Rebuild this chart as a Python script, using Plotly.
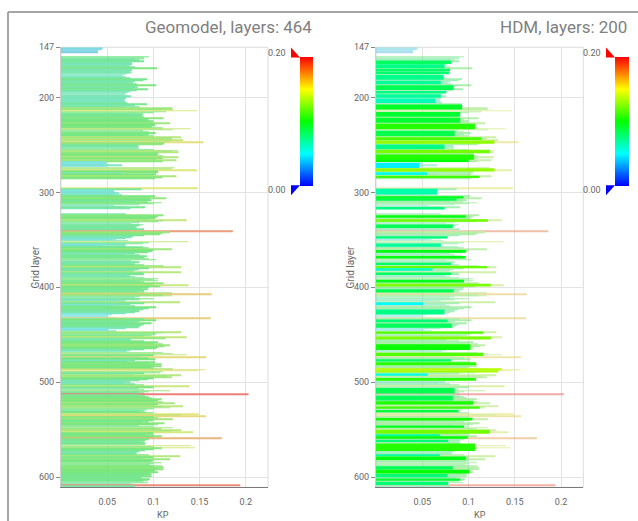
import plotly.graph_objects as go

W, H = 638, 521

# ---------------- data ----------------
first_layer = 147
geo_kp = [
    # 147-156
    0, 0.045, 0.044, 0, 0.040, 0.040, 0, 0, 0, 0,
    # 157-166
    0.095, 0.090, 0.090, 0.080, 0.085, 0.090, 0.075, 0.077, 0.077, 0.071,
    # 167-176
    0.075, 0.080, 0.104, 0.076, 0.077, 0.075, 0.075, 0.077, 0.072, 0.069,
    # 177-186
    0.066, 0.066, 0.070, 0.075, 0.093, 0.089, 0.080, 0.076, 0.078, 0.082,
    # 187-196
    0.103, 0.080, 0.083, 0.078, 0.094, 0.082, 0.075, 0.072, 0.072, 0.070,
    # 197-206
    0.069, 0.072, 0.076, 0.071, 0.070, 0.069, 0.068, 0.069, 0.070, 0.072,
    # 207-216
    0.093, 0.080, 0.069, 0.085, 0.120, 0.121, 0.110, 0.147, 0.114, 0.100,
    # 217-226
    0.080, 0.089, 0.088, 0.087, 0.090, 0.111, 0.094, 0.095, 0.100, 0.098,
    # 227-236
    0.118, 0.102, 0.102, 0.098, 0.098, 0.110, 0.140, 0.121, 0.089, 0.095,
    # 237-246
    0.103, 0.102, 0.095, 0.091, 0.100, 0.130, 0.120, 0.120, 0.132, 0.118,
    # 247-256
    0.154, 0.112, 0.110, 0.082, 0.084, 0.080, 0.084, 0.084, 0.100, 0.127,
    # 257-266
    0.120, 0.127, 0.105, 0.105, 0.103, 0.110, 0.127, 0.110, 0.103, 0.125,
    # 267-276
    0.110, 0.048, 0.050, 0.048, 0.066, 0.045, 0.050, 0.123, 0.120, 0.118,
    # 277-286
    0.147, 0.105, 0.105, 0.066, 0.103, 0.100, 0.125, 0.110, 0.102, 0,
    # 287-296
    0, 0, 0, 0, 0, 0, 0, 0, 0, 0.148,
    # 297-306
    0.087, 0.057, 0.057, 0.058, 0.063, 0.057, 0.066, 0.102, 0.096, 0.114,
    # 307-316
    0.096, 0.098, 0.080, 0.094, 0.109, 0.100, 0.085, 0.057, 0.070, 0.091,
    # 317-326
    0.075, 0, 0, 0, 0, 0, 0.070, 0.111, 0.105, 0.103,
    # 327-336
    0.102, 0.095, 0.136, 0.110, 0.105, 0.085, 0.076, 0.089, 0.085, 0.082,
    # 337-346
    0.080, 0.082, 0.090, 0.075, 0.186, 0.118, 0.110, 0.107, 0.090, 0.078,
    # 347-356
    0.076, 0.070, 0.055, 0.060, 0.073, 0.138, 0.095, 0.089, 0.070, 0.045,
    # 357-366
    0.070, 0.089, 0.095, 0.120, 0.100, 0.098, 0.094, 0.080, 0.069, 0.085,
    # 367-376
    0.093, 0.090, 0.089, 0.095, 0.103, 0.076, 0.080, 0.085, 0.076, 0.080,
    # 377-386
    0.090, 0.111, 0.130, 0.095, 0.084, 0.080, 0.078, 0.130, 0.089, 0.090,
    # 387-396
    0.071, 0.075, 0.080, 0.090, 0.105, 0.100, 0.105, 0.085, 0.090, 0.111,
    # 397-406
    0.100, 0.138, 0.107, 0.095, 0.087, 0.094, 0.090, 0.082, 0.090, 0.120,
    # 407-416
    0.163, 0.110, 0.120, 0.085, 0.080, 0.100, 0.085, 0.062, 0.070, 0.129,
    # 417-426
    0.090, 0.075, 0.057, 0.080, 0.103, 0.095, 0.089, 0.084, 0.085, 0.080,
    # 427-436
    0.070, 0.051, 0.055, 0.051, 0.051, 0.060, 0.162, 0.090, 0.103, 0.085,
    # 437-446
    0.080, 0.098, 0.090, 0.087, 0.085, 0.084, 0.070, 0.051, 0.051, 0.060,
    # 447-456
    0.130, 0.110, 0.103, 0.102, 0.098, 0.090, 0.136, 0.113, 0.075, 0.076,
    # 457-466
    0.090, 0.105, 0.100, 0.110, 0.118, 0.112, 0.105, 0.103, 0.090, 0.071,
    # 467-476
    0.075, 0.071, 0.110, 0.121, 0.136, 0.100, 0.087, 0.157, 0.095, 0.102,
    # 477-486
    0.080, 0.071, 0.102, 0.095, 0.109, 0.100, 0.109, 0.098, 0.100, 0.121,
    # 487-496
    0.156, 0.148, 0.110, 0.107, 0.090, 0.078, 0.130, 0.115, 0.120, 0.100,
    # 497-506
    0.094, 0.085, 0.069, 0.075, 0.067, 0.080, 0.090, 0.139, 0.100, 0.076,
    # 507-516
    0.084, 0.090, 0.118, 0.095, 0.084, 0.090, 0.203, 0.085, 0.091, 0.095,
    # 517-526
    0.098, 0.109, 0.105, 0.102, 0.110, 0.123, 0.105, 0.102, 0.132, 0.110,
    # 527-536
    0.118, 0.100, 0.093, 0.090, 0.085, 0.091, 0.100, 0.149, 0.130, 0.157,
    # 537-546
    0.100, 0.105, 0.121, 0.100, 0.087, 0.095, 0.112, 0.100, 0.105, 0.084,
    # 547-556
    0.100, 0.121, 0.105, 0.109, 0.130, 0.120, 0.143, 0.100, 0.091, 0.100,
    # 557-566
    0.109, 0.100, 0.174, 0.095, 0.091, 0.084, 0.090, 0.091, 0.085, 0.091,
    # 567-576
    0.141, 0.100, 0.145, 0.109, 0.100, 0.091, 0.085, 0.082, 0.080, 0.082,
    # 577-586
    0.095, 0.129, 0.100, 0.089, 0.118, 0.100, 0.098, 0.090, 0.109, 0.100,
    # 587-596
    0.096, 0.109, 0.100, 0.111, 0.105, 0.111, 0.102, 0.100, 0.105, 0.095,
    # 597-606
    0.098, 0.090, 0.098, 0.085, 0.087, 0.096, 0.090, 0.094, 0.088, 0.094,
    # 607-610
    0.076, 0.080, 0.194, 0.080,
]
geo_layers = list(range(first_layer, first_layer + len(geo_kp)))

# HDM (upscaled) layers: top / bottom in geomodel-layer units, and KP
hdm_top = [161, 165, 169.7, 172.7, 176.3, 182.2, 187, 193, 196.5, 201,
           207.3, 215.3, 221.3, 227.5, 234.9, 241.8, 245.3, 249.5, 255, 260,
           266, 269, 274.6, 278.8, 282.3, 296.2, 303.9, 306.8, 315.4, 324.1,
           328.3, 333.9, 346.1, 353.8, 360.7, 367, 374, 377.5, 380.6, 384.5,
           392.1, 396.3, 401.9, 416.5, 423.5, 434, 438.2, 446.5, 451.8, 460.1,
           468.9, 475.8, 480, 485.6, 488, 490.8, 495.7, 506.2, 514.2, 520.1,
           525.7, 529.2, 537.6, 545.6, 550.1, 555, 557.4, 560.6, 564.7, 576,
           578.2, 588.5, 592.2, 596.8, 601.4, 604.8]
hdm_bottom = [164.5, 169, 172.5, 175.3, 181.2, 186, 192, 195.8, 200.3, 205.6,
              212.6, 220.2, 226.5, 233.5, 240.8, 244.6, 248.8, 254.4, 258.6, 265.5,
              268, 274.3, 278, 281.6, 284.7, 302.2, 306.5, 308.8, 317.9, 326.6,
              330.8, 337.4, 348.5, 357.3, 363.5, 369.5, 376.4, 380, 382.4, 386.9,
              394.9, 399.1, 405.4, 418.6, 428.7, 436.8, 442.7, 449, 454.9, 466,
              472.4, 478.3, 482.1, 487.3, 489.8, 493.3, 498.5, 511.8, 519.4, 523.6,
              528.1, 531.6, 540.3, 548, 554.3, 557, 559.5, 563, 572.4, 578,
              582, 592, 596.1, 600.3, 603.8, 608.3]
hdm_kp = [0.081, 0.074, 0.080, 0.079, 0.073, 0.070, 0.084, 0.076, 0.070, 0.064,
          0.093, 0.091, 0.091, 0.107, 0.085, 0.114, 0.128, 0.074, 0.123, 0.106,
          0.100, 0.047, 0.128, 0.055, 0.112, 0.066, 0.094, 0.087, 0.074, 0.097,
          0.121, 0.083, 0.077, 0.070, 0.097, 0.097, 0.081, 0.120, 0.061, 0.081,
          0.095, 0.124, 0.084, 0.051, 0.074, 0.077, 0.082, 0.116, 0.124, 0.102,
          0.116, 0.081, 0.108, 0.136, 0.132, 0.056, 0.108, 0.085, 0.083, 0.105,
          0.112, 0.089, 0.104, 0.095, 0.123, 0.069, 0.099, 0.078, 0.107, 0.069,
          0.097, 0.083, 0.101, 0.077, 0.091, 0.078]

panel_titles = ["Geomodel, layers: 464", "HDM, layers: 200"]
y_tickvals = [147, 200, 300, 400, 500, 600]
x_tickvals = [0.05, 0.1, 0.15, 0.2]
x_ticktext = ["0.05", "0.1", "0.15", "0.2"]
cbar_labels = ["0.20", "0.00"]
kp_min, kp_max = 0.0, 0.2

hdm_center = [(t + b) / 2 for t, b in zip(hdm_top, hdm_bottom)]
hdm_width = [b - t for t, b in zip(hdm_top, hdm_bottom)]

# ---------------- style ----------------
FONT = "Roboto"
rainbow = [[0.0, "#0000ff"], [0.25, "#00ffff"], [0.5, "#00ff00"],
           [0.75, "#ffff00"], [1.0, "#ff0000"]]
# washed-out version used for the fine geomodel layers
pale_rainbow = [[0.0, "rgb(110,112,228)"], [0.25, "rgb(110,226,226)"],
                [0.5, "rgb(100,228,108)"], [0.75, "rgb(224,230,110)"],
                [1.0, "rgb(236,110,104)"]]


def px(x):
    return x / W


def py(y):
    return 1 - y / H


fig = go.Figure()

# left: geomodel
fig.add_trace(go.Bar(
    orientation="h", x=geo_kp, y=geo_layers, width=0.8,
    marker=dict(color=geo_kp, coloraxis="coloraxis3", line=dict(width=0)),
    opacity=0.88, xaxis="x", yaxis="y", hoverinfo="skip"))

# right: geomodel faded + HDM
fig.add_trace(go.Bar(
    orientation="h", x=geo_kp, y=geo_layers, width=0.8,
    marker=dict(color=geo_kp, coloraxis="coloraxis3", line=dict(width=0)),
    opacity=0.58, xaxis="x2", yaxis="y2", hoverinfo="skip"))
fig.add_trace(go.Bar(
    orientation="h", x=hdm_kp, y=hdm_center, width=hdm_width,
    marker=dict(color=hdm_kp, coloraxis="coloraxis2", line=dict(width=0)),
    opacity=1.0, xaxis="x2", yaxis="y2", hoverinfo="skip"))
# invisible carrier for the left colorbar
fig.add_trace(go.Bar(
    orientation="h", x=[0], y=[first_layer],
    marker=dict(color=[kp_min], coloraxis="coloraxis"),
    xaxis="x", yaxis="y", hoverinfo="skip", opacity=0))

y_dom = [py(487), py(42.7)]
y_range = [610.8, 147]
x_range = [0, 0.224]

tickfont = dict(family=FONT, size=9, color="#666666")


def xax(dom, anchor):
    return dict(domain=dom, anchor=anchor, range=x_range,
                tickvals=x_tickvals, ticktext=x_ticktext, tickfont=tickfont,
                showgrid=True, gridcolor="#e3e3e3", gridwidth=1,
                zeroline=False, showline=True, linecolor="#7a7a7a", linewidth=1,
                ticks="outside", ticklen=6, tickcolor="rgba(0,0,0,0)",
                fixedrange=True)


def yax(anchor):
    return dict(domain=y_dom, anchor=anchor, range=y_range,
                tickvals=y_tickvals, tickfont=tickfont,
                showgrid=True, gridcolor="#e3e3e3", gridwidth=1,
                zeroline=False, showline=True, linecolor="#d0d0d0", linewidth=1,
                ticks="outside", ticklen=4, tickcolor="#888888",
                fixedrange=True)


cb_common = dict(thicknessmode="pixels", lenmode="pixels", len=129,
                 xanchor="left", yanchor="middle", y=py(117.5),
                 xpad=0, ypad=0, outlinewidth=0, showticklabels=False, ticks="")

fig.update_layout(
    width=W, height=H, margin=dict(l=0, r=0, t=0, b=0),
    paper_bgcolor="white", plot_bgcolor="white",
    barmode="overlay", showlegend=False,
    font=dict(family=FONT, color="#666666"),
    xaxis=xax([px(61), px(268)], "y"),
    yaxis=yax("x"),
    xaxis2=xax([px(376), px(583.3)], "y2"),
    yaxis2=yax("x2"),
    coloraxis=dict(cmin=kp_min, cmax=kp_max, colorscale=rainbow,
                   colorbar=dict(x=px(300), thickness=13, **cb_common)),
    coloraxis2=dict(cmin=kp_min, cmax=kp_max, colorscale=rainbow,
                    colorbar=dict(x=px(615), thickness=14, **cb_common)),
    coloraxis3=dict(cmin=kp_min, cmax=kp_max, colorscale=pale_rainbow,
                    showscale=False),
)

ann = []
# panel titles
for text, xr in zip(panel_titles, [314, 628.5]):
    ann.append(dict(text=text, x=px(xr), y=py(22), xref="paper", yref="paper",
                    xanchor="right", yanchor="middle", showarrow=False,
                    font=dict(family=FONT, size=17, color="#808080")))
# axis titles
for xc in [35, 350]:
    ann.append(dict(text="Grid layer", x=px(xc), y=py(265), xref="paper", yref="paper",
                    textangle=-90, xanchor="center", yanchor="middle", showarrow=False,
                    font=dict(family=FONT, size=10, color="#666666")))
for xc in [163, 480]:
    ann.append(dict(text="KP", x=px(xc), y=py(515), xref="paper", yref="paper",
                    xanchor="center", yanchor="middle", showarrow=False,
                    font=dict(family=FONT, size=9, color="#666666")))
# colorbar end labels
for xr in [288, 603]:
    for lab, yc in zip(cbar_labels, [48, 187]):
        ann.append(dict(text=lab, x=px(xr), y=py(yc), xref="paper", yref="paper",
                        xanchor="right", yanchor="middle", showarrow=False,
                        font=dict(family=FONT, size=9, color="#666666")))
fig.update_layout(annotations=ann)

shapes = []
# plot frames
for xr, yr in [("x", "y"), ("x2", "y2")]:
    shapes.append(dict(type="rect", xref=xr + " domain", yref=yr + " domain",
                       x0=0, x1=1, y0=0, y1=1, line=dict(color="#dcdcdc", width=1),
                       layer="below"))
# colorbar extension triangles
for xl in [291, 606]:
    shapes.append(dict(type="path", xref="paper", yref="paper",
                       path=f"M {px(xl)} {py(43)} L {px(xl)} {py(53)} L {px(xl + 9)} {py(53)} Z",
                       fillcolor="#ff0000", line=dict(width=0)))
    shapes.append(dict(type="path", xref="paper", yref="paper",
                       path=f"M {px(xl)} {py(182)} L {px(xl + 9)} {py(182)} L {px(xl)} {py(192)} Z",
                       fillcolor="#0000ff", line=dict(width=0)))
# outer border (top and left)
shapes.append(dict(type="line", xref="paper", yref="paper",
                   x0=px(8), x1=1.0, y0=py(7), y1=py(7),
                   line=dict(color="#a6a6a6", width=2)))
shapes.append(dict(type="line", xref="paper", yref="paper",
                   x0=px(8), x1=px(8), y0=py(7), y1=0,
                   line=dict(color="#a6a6a6", width=2)))
fig.update_layout(shapes=shapes)

fig.write_html("out.html", config={"displayModeBar": False},
               post_script="document.body.style.margin='0';document.body.style.overflow='hidden';")
